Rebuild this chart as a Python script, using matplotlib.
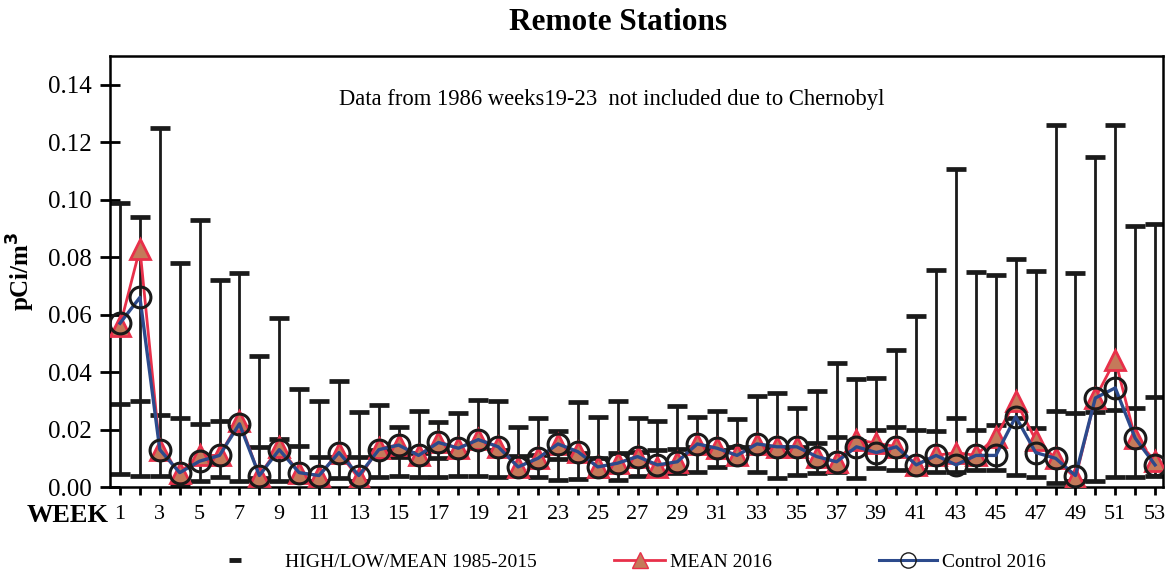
import numpy as np
import matplotlib
matplotlib.use("Agg")
import matplotlib.pyplot as plt
from matplotlib.lines import Line2D

plt.rcParams['font.family'] = ['Liberation Serif', 'DejaVu Serif']

# Dados
weeks = list(range(1, 54))

high = [0.099, 0.094, 0.125, 0.078, 0.093, 0.072, 0.0745, 0.0457, 0.0588, 0.034,
        0.030, 0.037, 0.026, 0.0286, 0.021, 0.0265, 0.0227, 0.0257, 0.0303, 0.030,
        0.021, 0.024, 0.0196, 0.0296, 0.0245, 0.030, 0.024, 0.023, 0.0283, 0.0245,
        0.0266, 0.0237, 0.0317, 0.0328, 0.0275, 0.0334, 0.043, 0.0376, 0.038, 0.0477,
        0.0596, 0.0756, 0.1108, 0.0749, 0.0738, 0.0794, 0.0752, 0.126, 0.0745, 0.115,
        0.126, 0.091, 0.0916]

low = [0.0045, 0.004, 0.004, 0.001, 0.002, 0.0035, 0.002, 0.003, 0.002, 0.002,
       0.002, 0.003, 0.002, 0.0036, 0.004, 0.0036, 0.0036, 0.004, 0.004, 0.0036,
       0.0045, 0.0035, 0.0025, 0.0028, 0.0038, 0.0025, 0.0038, 0.0042, 0.0049, 0.0052,
       0.007, 0.0083, 0.0053, 0.003, 0.0042, 0.0049, 0.0053, 0.003, 0.0066, 0.006,
       0.006, 0.0053, 0.0053, 0.006, 0.006, 0.0042, 0.0035, 0.0015, 0.002, 0.0022,
       0.0036, 0.0036, 0.004]

mean_hist = [0.029, 0.030, 0.025, 0.024, 0.022, 0.023, 0.021, 0.014, 0.0167, 0.0143,
             0.0104, 0.0104, 0.0104, 0.013, 0.0104, 0.012, 0.010, 0.012, 0.015, 0.013,
             0.0108, 0.011, 0.0099, 0.012, 0.010, 0.012, 0.0123, 0.0129, 0.0132, 0.014,
             0.013, 0.014, 0.014, 0.014, 0.014, 0.0153, 0.0175, 0.016, 0.0198, 0.021,
             0.0198, 0.0195, 0.024, 0.0198, 0.0216, 0.024, 0.0207, 0.0266, 0.0257, 0.026,
             0.0268, 0.0275, 0.0315]

mean_2016 = [0.056, 0.083, 0.013, 0.005, 0.011, 0.011, 0.023, 0.004, 0.014, 0.005,
             0.004, 0.012, 0.003, 0.0135, 0.0146, 0.011, 0.0158, 0.0135, 0.0167, 0.014,
             0.007, 0.010, 0.015, 0.0123, 0.007, 0.0083, 0.0106, 0.007, 0.0088, 0.015,
             0.0135, 0.011, 0.015, 0.014, 0.014, 0.0106, 0.0088, 0.0164, 0.0153, 0.014,
             0.0077, 0.011, 0.012, 0.011, 0.0175, 0.030, 0.0164, 0.010, 0.003, 0.031,
             0.0443, 0.017, 0.009]

control_2016 = [0.057, 0.066, 0.013, 0.005, 0.009, 0.011, 0.022, 0.004, 0.013, 0.005,
                0.004, 0.012, 0.004, 0.013, 0.0146, 0.011, 0.0155, 0.0135, 0.0165, 0.014,
                0.007, 0.010, 0.015, 0.0123, 0.007, 0.0083, 0.0106, 0.0077, 0.0088, 0.015,
                0.0135, 0.011, 0.015, 0.014, 0.014, 0.0106, 0.0088, 0.014, 0.012, 0.014,
                0.0077, 0.011, 0.0077, 0.011, 0.011, 0.0245, 0.012, 0.010, 0.004, 0.031,
                0.0345, 0.017, 0.0077]

# ---------------- Gráfico ----------------
fig = plt.figure(figsize=(11.67, 5.8), dpi=100)
ax = fig.add_axes([0.0943, 0.1603, 0.9023, 0.7431])

hi = np.array(high)
lo = np.array(low)
mid = (hi + lo) / 2
ax.errorbar(weeks, mid, yerr=[mid - lo, hi - mid], fmt='none', ecolor='#1a1a1a',
            elinewidth=2.0, capsize=7, capthick=3.4, zorder=2)
ax.plot(weeks, mean_hist, ls='none', marker='_', color='#1a1a1a', ms=14.5, mew=3.4, zorder=2)

ax.plot(weeks, mean_2016, color='#e8304a', lw=2.0, marker='^', ms=14,
        mfc='#c47a5a', mec='#e8304a', mew=2.0, zorder=3)
ax.plot(weeks, control_2016, color='#2c4a8c', lw=2.4, marker='o', ms=15,
        mfc='none', mec='#1a1a1a', mew=2.2, zorder=4)

ax.set_xlim(0.5, 53.4)
ax.set_ylim(0, 0.15)
ax.set_yticks(np.arange(0, 0.141, 0.02))
ax.set_yticklabels([f'{v:.2f}' for v in np.arange(0, 0.141, 0.02)], fontsize=18)
ax.set_xticks(weeks)
ax.set_xticklabels([str(w) if w % 2 == 1 else '' for w in weeks], fontsize=16)
ax.tick_params(axis='y', direction='inout', length=14, width=2, pad=6)
ax.tick_params(axis='x', direction='out', length=6, width=2, pad=7)
for s in ax.spines.values():
    s.set_linewidth(1.8)

ax.set_ylabel('pCi/m$^\\mathbf{3}$', fontsize=18, fontweight='bold', labelpad=8)
fig.text(0.53, 0.962, 'Remote Stations', ha='center', va='center', fontsize=22.5, fontweight='bold')
ax.text(0.476, 0.898, 'Data from 1986 weeks19-23  not included due to Chernobyl',
        transform=ax.transAxes, ha='center', va='center', fontsize=16.3)
fig.text(0.093, 0.1, 'WEEK', ha='right', va='baseline', fontsize=19, fontweight='bold')

# Legenda em três blocos separados
h_hist = Line2D([], [], ls='none', marker='_', color='#1a1a1a', ms=8, mew=3.5)
h_mean = Line2D([], [], color='#e8304a', lw=2, marker='^', ms=11, mfc='#c47a5a', mec='#e8304a')
h_ctrl = Line2D([], [], color='#2c4a8c', lw=2.2, marker='o', ms=11, mfc='none', mec='#1a1a1a')

leg1 = fig.legend([h_hist], ['HIGH/LOW/MEAN 1985-2015'], loc='center left',
                  bbox_to_anchor=(0.1645, 0.031), frameon=False, fontsize=14,
                  handlelength=2.6, handletextpad=1.3)
leg2 = fig.legend([h_mean], ['MEAN 2016'], loc='center left',
                  bbox_to_anchor=(0.5115, 0.031), frameon=False, fontsize=14,
                  handlelength=2.6, handletextpad=0.25)
leg3 = fig.legend([h_ctrl], ['Control 2016'], loc='center left',
                  bbox_to_anchor=(0.738, 0.031), frameon=False, fontsize=14,
                  handlelength=3.0, handletextpad=0.25)

plt.savefig('out.png', dpi=100)
